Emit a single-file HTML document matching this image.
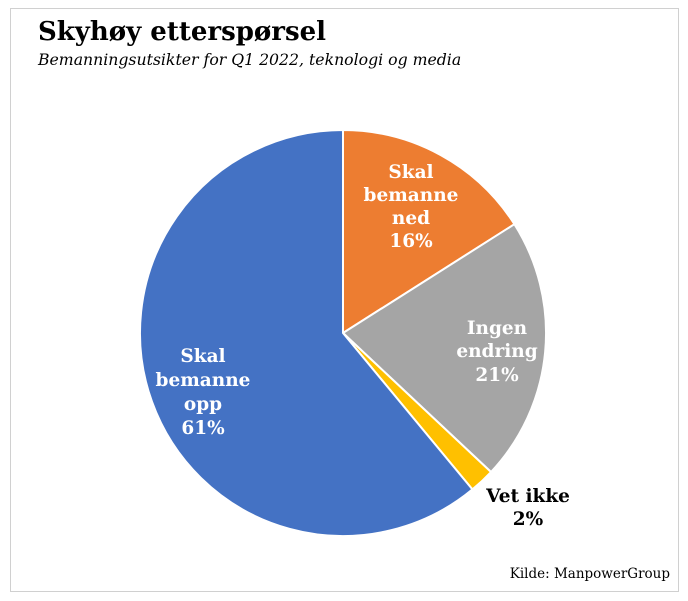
<!DOCTYPE html>
<html><head><meta charset="utf-8"><style>
body{margin:0;background:#fff;width:688px;height:601px;overflow:hidden;font-family:"DejaVu Serif",serif}
.frame{position:absolute;left:10px;top:8px;width:667px;height:582px;border:1px solid #d0d0d0}
.t{position:absolute;left:38px;top:17px;font-size:26px;font-weight:bold;color:#000;white-space:nowrap}
.s{position:absolute;left:38px;top:50px;font-size:15.7px;font-style:italic;color:#000;white-space:nowrap}
.k{position:absolute;right:18px;top:566px;font-size:13.5px;white-space:nowrap}
</style></head><body>
<div class="frame"></div>
<div class="t">Skyhøy etterspørsel</div>
<div class="s">Bemanningsutsikter for Q1 2022, teknologi og media</div>
<svg width="688" height="601" style="position:absolute;left:0;top:0">
<g stroke="#fff" stroke-width="2" stroke-linejoin="round">
<path d="M343 333 L343 130 A203 203 0 0 1 514.4 224.2 Z" fill="#ed7d31"/>
<path d="M343 333 L514.4 224.2 A203 203 0 0 1 491 472 Z" fill="#a5a5a5"/>
<path d="M343 333 L491 472 A203 203 0 0 1 472.4 489.4 Z" fill="#ffc000"/>
<path d="M343 333 L472.4 489.4 A203 203 0 1 1 343 130 Z" fill="#4472c4"/>
</g>
<g font-family="DejaVu Serif,serif" font-weight="bold" font-size="18.5" text-anchor="middle" fill="#fff">
<text x="411" y="178">Skal</text><text x="411" y="201">bemanne</text><text x="411" y="224">ned</text><text x="411" y="247">16%</text>
<text x="497" y="334">Ingen</text><text x="497" y="357">endring</text><text x="497" y="381">21%</text>
<text x="203" y="362">Skal</text><text x="203" y="386">bemanne</text><text x="203" y="410">opp</text><text x="203" y="434">61%</text>
<g fill="#000"><text x="528" y="502">Vet ikke</text><text x="528" y="525">2%</text></g>
</g>
</svg>
<div class="k">Kilde: ManpowerGroup</div>
</body></html>
